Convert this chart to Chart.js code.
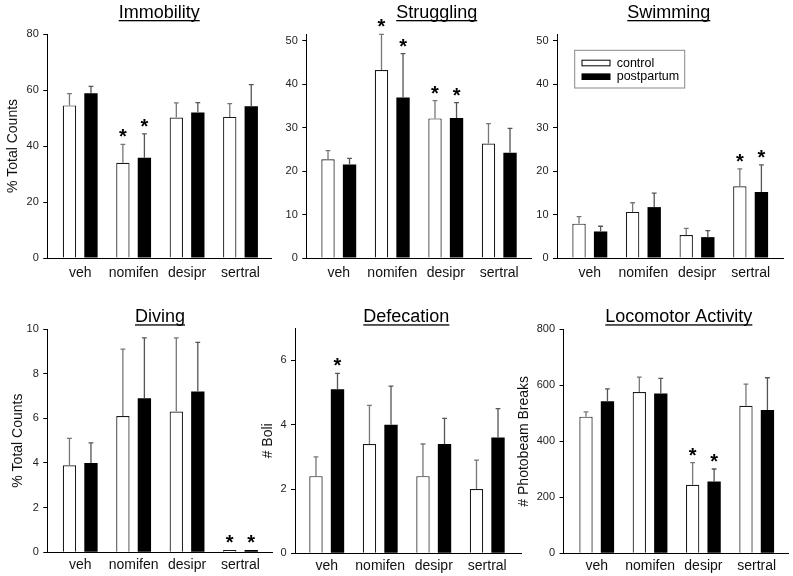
<!DOCTYPE html>
<html><head><meta charset="utf-8">
<script src="https://cdn.jsdelivr.net/npm/chart.js@4.4.1/dist/chart.umd.min.js"></script>
<style>
html,body{margin:0;padding:0;background:#fff;}
#wrap{position:relative;width:793px;height:576px;overflow:hidden;background:#fff;}
#wrap canvas{position:absolute;}
</style></head><body><div id="wrap"></div>
<script>
const FONT = "Arial, 'Liberation Sans', Helvetica, sans-serif";

// ---------- data ----------
const categories = ['veh', 'nomifen', 'desipr', 'sertral'];
const seriesNames = ['control', 'postpartum'];

const immobilityControl    = [54.5, 34.0, 50.2, 50.4];
const immobilityControlErr = [4.2, 6.6, 5.2, 4.7];
const immobilityPost       = [58.8, 35.8, 52.0, 54.2];
const immobilityPostErr    = [2.5, 8.5, 3.5, 7.7];
const immobilityControlSig = [false, true, false, false];
const immobilityPostSig    = [false, true, false, false];
const immobilityTicks      = [0, 20, 40, 60, 80];

const strugglingControl    = [22.7, 43.2, 32.1, 26.3];
const strugglingControlErr = [2.0, 8.2, 4.1, 4.6];
const strugglingPost       = [21.5, 36.9, 32.2, 24.2];
const strugglingPostErr    = [1.4, 10.1, 3.5, 5.6];
const strugglingControlSig = [false, true, true, false];
const strugglingPostSig    = [false, true, true, false];
const strugglingTicks      = [0, 10, 20, 30, 40, 50];

const swimmingControl    = [7.9, 10.6, 5.3, 16.5];
const swimmingControlErr = [1.6, 2.1, 1.5, 4.0];
const swimmingPost       = [6.1, 11.7, 4.8, 15.2];
const swimmingPostErr    = [1.2, 3.2, 1.5, 6.2];
const swimmingControlSig = [false, false, false, true];
const swimmingPostSig    = [false, false, false, true];
const swimmingTicks      = [0, 10, 20, 30, 40, 50];

const divingControl    = [3.9, 6.1, 6.3, 0.1];
const divingControlErr = [1.2, 3.0, 3.3, 0];
const divingPost       = [4.0, 6.9, 7.2, 0.1];
const divingPostErr    = [0.9, 2.7, 2.2, 0];
const divingControlSig = [false, false, false, true];
const divingPostSig    = [false, false, false, true];
const divingTicks      = [0, 2, 4, 6, 8, 10];

const defecationControl    = [2.4, 3.4, 2.4, 2.0];
const defecationControlErr = [0.6, 1.2, 1.0, 0.9];
const defecationPost       = [5.1, 4.0, 3.4, 3.6];
const defecationPostErr    = [0.5, 1.2, 0.8, 0.9];
const defecationControlSig = [false, false, false, false];
const defecationPostSig    = [true, false, false, false];
const defecationTicks      = [0, 2, 4, 6];

const locomotorControl    = [488, 576, 245, 527];
const locomotorControlErr = [17, 53, 79, 77];
const locomotorPost       = [543, 571, 256, 512];
const locomotorPostErr    = [44, 54, 45, 115];
const locomotorControlSig = [false, false, true, false];
const locomotorPostSig    = [false, false, true, false];
const locomotorTicks      = [0, 200, 400, 600, 800];

// ---------- panel layout ----------
const panels = [
  { title: 'Immobility', yTitle: '% Total Counts', yMax: 80, yTicks: immobilityTicks,
    ctrl: immobilityControl, ctrlErr: immobilityControlErr, ctrlSig: immobilityControlSig,
    post: immobilityPost, postErr: immobilityPostErr, postSig: immobilityPostSig,
    box: {x: 0, y: 0, w: 280, h: 290}, area: {l: 47.3, r: 271.7, t: 34, b: 258},
    xMin: -0.616, xMax: 3.584, titleX: 159.2, titleY: 18, yTitlePad: 4.3, xPad: 6.6 },
  { title: 'Struggling', yTitle: '', yMax: 51.5, yTicks: strugglingTicks,
    ctrl: strugglingControl, ctrlErr: strugglingControlErr, ctrlSig: strugglingControlSig,
    post: strugglingPost, postErr: strugglingPostErr, postSig: strugglingPostSig,
    box: {x: 280, y: 0, w: 260, h: 290}, area: {l: 306.3, r: 531.3, t: 34, b: 258},
    xMin: -0.607, xMax: 3.599, titleX: 436.7, titleY: 18, yTitlePad: 0, xPad: 6.4 },
  { title: 'Swimming', yTitle: '', yMax: 51.5, yTicks: swimmingTicks,
    ctrl: swimmingControl, ctrlErr: swimmingControlErr, ctrlSig: swimmingControlSig,
    post: swimmingPost, postErr: swimmingPostErr, postSig: swimmingPostSig,
    box: {x: 535, y: 0, w: 258, h: 290}, area: {l: 557, r: 783, t: 34, b: 258},
    xMin: -0.612, xMax: 3.604, titleX: 668.8, titleY: 18, yTitlePad: 0, xPad: 6.4, legend: true },
  { title: 'Diving', yTitle: '% Total Counts', yMax: 10, yTicks: divingTicks,
    ctrl: divingControl, ctrlErr: divingControlErr, ctrlSig: divingControlSig,
    post: divingPost, postErr: divingPostErr, postSig: divingPostSig,
    box: {x: 0, y: 290, w: 280, h: 286}, area: {l: 47.3, r: 272, t: 329, b: 552.3},
    xMin: -0.616, xMax: 3.59, titleX: 160, titleY: 322.3, yTitlePad: 9.6, xPad: 4.5 },
  { title: 'Defecation', yTitle: '# Boli', yMax: 7, yTicks: defecationTicks,
    ctrl: defecationControl, ctrlErr: defecationControlErr, ctrlSig: defecationControlSig,
    post: defecationPost, postErr: defecationPostErr, postSig: defecationPostSig,
    box: {x: 250, y: 290, w: 290, h: 286}, area: {l: 295, r: 521.7, t: 328.3, b: 553.3},
    xMin: -0.593, xMax: 3.644, titleX: 406.3, titleY: 322.3, yTitlePad: 9.9, xPad: 4.3 },
  { title: 'Locomotor Activity', yTitle: '# Photobeam Breaks', yMax: 800, yTicks: locomotorTicks,
    ctrl: locomotorControl, ctrlErr: locomotorControlErr, ctrlSig: locomotorControlSig,
    post: locomotorPost, postErr: locomotorPostErr, postSig: locomotorPostSig,
    box: {x: 510, y: 290, w: 283, h: 286}, area: {l: 563.5, r: 788, t: 329.3, b: 553.3},
    xMin: -0.623, xMax: 3.587, titleX: 678.8, titleY: 322.3, yTitlePad: 6.1, xPad: 4.3 }
];

// ---------- plugins ----------
const errorBarPlugin = {
  id: 'errorBars',
  afterDatasetsDraw(chart) {
    const ctx = chart.ctx, yS = chart.scales.y;
    chart.data.datasets.forEach((ds, i) => {
      const meta = chart.getDatasetMeta(i);
      meta.data.forEach((bar, j) => {
        const v = ds.data[j].y, e = ds.errors[j];
        const yTop = yS.getPixelForValue(v + e);
        const x = bar.x;
        ctx.save();
        if (e > 0) {
          ctx.strokeStyle = ds.errColor; ctx.lineWidth = 1.3;
          ctx.beginPath();
          ctx.moveTo(x, bar.y); ctx.lineTo(x, yTop);
          ctx.moveTo(x - 2.4, yTop); ctx.lineTo(x + 2.4, yTop);
          ctx.stroke();
        }
        if (ds.sig[j]) {
          ctx.fillStyle = '#000';
          ctx.font = 'bold 20px ' + FONT;
          ctx.textAlign = 'center'; ctx.textBaseline = 'alphabetic';
          ctx.fillText('*', x, yTop - 1);
        }
        ctx.restore();
      });
    });
  }
};

const panelTitlePlugin = {
  id: 'panelTitle',
  afterDraw(chart, args, opts) {
    const ctx = chart.ctx;
    ctx.save();
    ctx.font = '18px ' + FONT; ctx.fillStyle = '#000';
    ctx.textAlign = 'center'; ctx.textBaseline = 'alphabetic';
    ctx.fillText(opts.text, opts.x, opts.y);
    const w = ctx.measureText(opts.text).width;
    ctx.fillRect(opts.x - w / 2, opts.y + 2, w, 1.3);
    ctx.restore();
  }
};

const legendBoxPlugin = {
  id: 'legendBox',
  afterDraw(chart, args, opts) {
    if (!opts.show) return;
    const ctx = chart.ctx, a = chart.chartArea;
    const bx = a.left + 17.7, by = a.top + 16.3, bw = 110, bh = 37.7;
    ctx.save();
    ctx.fillStyle = '#fff'; ctx.fillRect(bx, by, bw, bh);
    ctx.strokeStyle = '#888'; ctx.lineWidth = 1; ctx.strokeRect(bx, by, bw, bh);
    const rows = [9.9, 23.6];
    chart.data.datasets.forEach((ds, i) => {
      const sy = by + rows[i];
      ctx.fillStyle = ds.backgroundColor; ctx.fillRect(bx + 7.3, sy, 28, 5.6);
      ctx.strokeStyle = '#000'; ctx.lineWidth = 1; ctx.strokeRect(bx + 7.3, sy, 28, 5.6);
      ctx.fillStyle = '#000'; ctx.font = '12.5px ' + FONT;
      ctx.textBaseline = 'middle'; ctx.textAlign = 'left';
      ctx.fillText(ds.label, bx + 42, sy + 3);
    });
    ctx.restore();
  }
};

// ---------- build charts ----------
const wrap = document.getElementById('wrap');
panels.forEach(p => {
  const cv = document.createElement('canvas');
  cv.width = p.box.w; cv.height = p.box.h;
  cv.style.left = p.box.x + 'px'; cv.style.top = p.box.y + 'px';
  cv.style.width = p.box.w + 'px'; cv.style.height = p.box.h + 'px';
  wrap.appendChild(cv);

  const toPts = vals => vals.map((v, i) => ({x: i, y: v}));
  const yW = p.area.l - p.box.x;
  const xH = (p.box.y + p.box.h - p.area.b) - 0.2;

  new Chart(cv.getContext('2d'), {
    type: 'bar',
    data: {
      datasets: [
        { label: seriesNames[0], data: toPts(p.ctrl), errors: p.ctrlErr, sig: p.ctrlSig,
          backgroundColor: '#ffffff', borderColor: '#1a1a1a', borderWidth: 1.2, errColor: '#777777',
          categoryPercentage: 0.805, barPercentage: 0.62 },
        { label: seriesNames[1], data: toPts(p.post), errors: p.postErr, sig: p.postSig,
          backgroundColor: '#000000', borderColor: '#000000', borderWidth: 0, errColor: '#555555',
          categoryPercentage: 0.805, barPercentage: 0.62 }
      ]
    },
    options: {
      responsive: false, animation: false, devicePixelRatio: 1,
      layout: { padding: {
        left: 0,
        top: p.area.t - p.box.y,
        right: p.box.x + p.box.w - p.area.r,
        bottom: 0.2 } },
      plugins: {
        legend: { display: false },
        tooltip: { enabled: false },
        title: { display: false },
        panelTitle: { text: p.title, x: p.titleX - p.box.x, y: p.titleY - p.box.y },
        legendBox: { show: !!p.legend }
      },
      scales: {
        x: {
          type: 'linear', min: p.xMin, max: p.xMax, offset: false,
          afterBuildTicks: s => { s.ticks = categories.map((c, i) => ({value: i})); },
          afterFit: s => { s.height = xH; },
          grid: { display: false, drawTicks: false },
          border: { display: true, color: '#000', width: 1 },
          ticks: { padding: p.xPad, color: '#111', autoSkip: false, maxRotation: 0,
                   font: { family: FONT, size: 14 },
                   callback: v => categories[v] !== undefined ? categories[v] : '' }
        },
        y: {
          min: 0, max: p.yMax,
          afterBuildTicks: s => { s.ticks = p.yTicks.map(v => ({value: v})); },
          afterFit: s => { s.width = yW; },
          grid: { drawOnChartArea: false, drawTicks: true, tickLength: 4, color: '#000', lineWidth: 1 },
          border: { display: true, color: '#000', width: 1 },
          ticks: { padding: 4.5, color: '#222', font: { family: FONT, size: 11 } },
          title: p.yTitle ? { display: true, text: p.yTitle, color: '#111',
                   font: { family: FONT, size: 14 }, padding: { top: p.yTitlePad, bottom: 0 } }
                 : { display: false }
        }
      }
    },
    plugins: [errorBarPlugin, panelTitlePlugin, legendBoxPlugin]
  });
});
</script>
</body></html>
